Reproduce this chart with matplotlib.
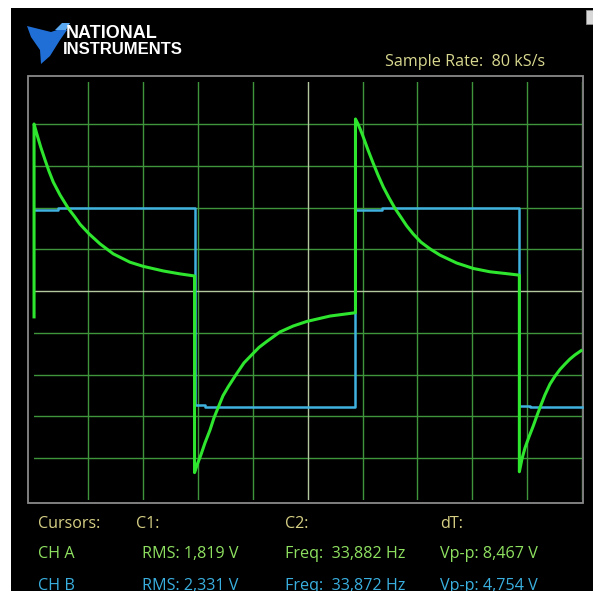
import matplotlib
matplotlib.use("Agg")
import matplotlib.pyplot as plt
from matplotlib.patches import Rectangle, Polygon

# time in ms (5 ms/div), voltage in V (1 V/div)
cha_t = [0.05, 0.05, 0.23, 0.44, 0.68, 1.05, 1.41, 1.80, 2.42, 3.17, 3.78, 4.24,
         5.06, 6.06, 7.27, 8.79, 10.01, 11.83, 13.35, 14.68,
         14.68, 14.95, 15.24, 15.63, 16.09, 16.45, 16.85, 17.27, 17.76, 18.52,
         19.19, 19.89, 20.56, 21.26, 22.47, 23.66, 24.90, 27.03, 29.35,
         29.35, 29.58, 29.81, 30.06, 30.49, 30.98, 31.40, 31.89, 32.41, 32.95,
         33.41, 34.02, 34.60, 35.32, 36.14, 37.05, 38.58, 40.09, 41.61, 42.98, 44.29,
         44.29, 44.53, 44.80, 45.16, 45.56, 45.90, 46.23, 46.62, 47.08, 47.54,
         47.99, 48.45, 48.90, 49.36, 49.91]
cha_v = [-0.62, 4.00, 3.83, 3.64, 3.43, 3.14, 2.87, 2.61, 2.30, 1.98, 1.77, 1.60,
         1.37, 1.13, 0.89, 0.69, 0.59, 0.48, 0.41, 0.36,
         -4.35, -4.14, -3.94, -3.64, -3.33, -3.04, -2.78, -2.51, -2.29, -1.98,
         -1.72, -1.53, -1.35, -1.21, -0.98, -0.84, -0.73, -0.60, -0.52,
         4.12, 4.00, 3.86, 3.69, 3.38, 3.05, 2.78, 2.49, 2.23, 1.98,
         1.80, 1.56, 1.37, 1.17, 1.01, 0.86, 0.67, 0.54, 0.46, 0.42, 0.38,
         -4.33, -4.02, -3.76, -3.50, -3.23, -2.98, -2.75, -2.49, -2.23, -2.04,
         -1.88, -1.75, -1.63, -1.53, -1.43]

chb_t = [0.05, 2.23, 2.23, 14.68, 14.68, 15.63, 15.63, 29.35, 29.35, 31.77,
         31.77, 44.29, 44.29, 45.26, 45.26, 50.0]
chb_v = [1.94, 1.94, 1.99, 1.99, -2.73, -2.73, -2.78, -2.78, 1.94, 1.94,
         1.98, 1.98, -2.75, -2.75, -2.77, -2.77]

x_grid = [5, 10, 15, 20, 30, 35, 40, 45, 50]
y_grid = [-4, -3, -2, -1, 1, 2, 3, 4]

header = "Sample Rate:  80 kS/s"
row_labels = ["Cursors:", "C1:", "C2:", "dT:"]
cha_labels = ["CH A", "RMS: 1,819 V", "Freq:  33,882 Hz", "Vp-p: 8,467 V"]
chb_labels = ["CH B", "RMS: 2,331 V", "Freq:  33,872 Hz", "Vp-p: 4,754 V"]
head_x = [38, 136, 285, 440]
col_x = [38, 142, 285, 440]

W, H = 593, 591
fig = plt.figure(figsize=(W / 100, H / 100), dpi=100, facecolor="black")


def fx(px):
    return px / W


def fy(py):
    return 1 - py / H


# white margins top and left
fig.patches.append(Rectangle((0, fy(8)), 1, 8 / H, transform=fig.transFigure,
                             facecolor="white", edgecolor="none", zorder=-5))
fig.patches.append(Rectangle((0, 0), fx(11), 1, transform=fig.transFigure,
                             facecolor="white", edgecolor="none", zorder=-5))
# small icon top right
fig.patches.append(Rectangle((fx(586), fy(24)), fx(7), 14 / H, transform=fig.transFigure,
                             facecolor="#d8d8d8", edgecolor="#909090", lw=0.6, zorder=-4))

# NI logo
fig.patches.append(Polygon([(fx(27), fy(26)), (fx(51), fy(32)), (fx(57), fy(30)), (fx(67), fy(30)),
                            (fx(60), fy(40)), (fx(50), fy(56)), (fx(41), fy(64)), (fx(40), fy(50)),
                            (fx(31), fy(37))], closed=True, transform=fig.transFigure,
                           facecolor="#1f6fd6", edgecolor="none", zorder=-4))
fig.patches.append(Polygon([(fx(55), fy(30)), (fx(62), fy(23)), (fx(70), fy(23)), (fx(66), fy(30))],
                           closed=True, transform=fig.transFigure,
                           facecolor="#5aa8f0", edgecolor="none", zorder=-4))
fig.text(fx(66), fy(33), "NATIONAL", color="white", fontsize=13, fontweight="bold",
         family="Liberation Sans", va="center", ha="left")
fig.text(fx(63), fy(49), "INSTRUMENTS", color="white", fontsize=12, fontweight="bold",
         family="Liberation Sans", va="center", ha="left")

fig.text(fx(385), fy(62), header, color="#d8d890", fontsize=11.6, family="Open Sans",
         va="center", ha="left")

# scope frame
fig.patches.append(Rectangle((fx(28), fy(503)), fx(583) - fx(28), fy(76) - fy(503),
                             transform=fig.transFigure, facecolor="none",
                             edgecolor="#8a8a8a", lw=1.3, zorder=-3))

ax = fig.add_axes([fx(33.5), fy(499.75), fx(582) - fx(33.5), fy(82.25) - fy(499.75)])
ax.set_zorder(5)
ax.set_facecolor("none")
ax.set_xlim(0, 50)
ax.set_ylim(-5, 5)
for s in ax.spines.values():
    s.set_visible(False)
ax.set_xticks([])
ax.set_yticks([])

for x in x_grid:
    ax.axvline(x, color="#3f953c", lw=1.0, zorder=1)
for y in y_grid:
    ax.axhline(y, color="#3f953c", lw=1.0, zorder=1)
ax.axvline(25, color="#b4c8a0", lw=1.0, zorder=1)
ax.axhline(0, color="#b4c8a0", lw=1.0, zorder=1)

ax.plot(chb_t, chb_v, color="#3fb2e0", lw=1.8, zorder=3, clip_on=False)
ax.plot(cha_t, cha_v, color="#2ee62e", lw=2.2, zorder=4, clip_on=False,
        solid_joinstyle="round")

# readouts
row_y = [524, 554, 586]
rows = [(row_labels, "#d6cf84", head_x), (cha_labels, "#8ee060", col_x),
        (chb_labels, "#3ab0e0", col_x)]
for (labels, col, xs), yy in zip(rows, row_y):
    for lab, xx in zip(labels, xs):
        fig.text(fx(xx), fy(yy), lab, color=col, fontsize=11.6, family="Open Sans",
                 va="center", ha="left")

fig.savefig("out.png", dpi=100, facecolor="black")
